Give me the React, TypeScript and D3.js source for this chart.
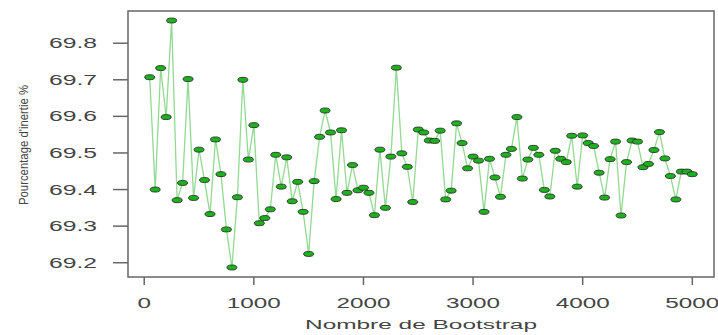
import React, { useRef, useEffect } from "react";
import * as d3 from "d3";

// Nombre de bootstrap (x) et pourcentage d'inertie (y)
const bootstrap: number[] = [
  50, 100, 150, 200, 250, 300, 350, 400, 450, 500,
  550, 600, 650, 700, 750, 800, 850, 900, 950, 1000,
  1050, 1100, 1150, 1200, 1250, 1300, 1350, 1400, 1450, 1500,
  1550, 1600, 1650, 1700, 1750, 1800, 1850, 1900, 1950, 2000,
  2050, 2100, 2150, 2200, 2250, 2300, 2350, 2400, 2450, 2500,
  2550, 2600, 2650, 2700, 2750, 2800, 2850, 2900, 2950, 3000,
  3050, 3100, 3150, 3200, 3250, 3300, 3350, 3400, 3450, 3500,
  3550, 3600, 3650, 3700, 3750, 3800, 3850, 3900, 3950, 4000,
  4050, 4100, 4150, 4200, 4250, 4300, 4350, 4400, 4450, 4500,
  4550, 4600, 4650, 4700, 4750, 4800, 4850, 4900, 4950, 5000,
];

const inertie: number[] = [
  69.707, 69.4, 69.732, 69.598, 69.862, 69.371, 69.418, 69.702, 69.377, 69.509,
  69.426, 69.333, 69.537, 69.442, 69.291, 69.187, 69.379, 69.7, 69.482, 69.576,
  69.308, 69.322, 69.346, 69.495, 69.408, 69.488, 69.368, 69.421, 69.339, 69.224,
  69.423, 69.544, 69.616, 69.556, 69.374, 69.562, 69.391, 69.467, 69.398, 69.405,
  69.391, 69.33, 69.509, 69.35, 69.49, 69.733, 69.499, 69.462, 69.366, 69.564,
  69.556, 69.534, 69.533, 69.561, 69.373, 69.397, 69.581, 69.527, 69.458, 69.49,
  69.479, 69.339, 69.484, 69.433, 69.38, 69.495, 69.511, 69.598, 69.43, 69.482,
  69.514, 69.495, 69.399, 69.381, 69.506, 69.484, 69.475, 69.547, 69.408, 69.548,
  69.527, 69.519, 69.446, 69.378, 69.483, 69.531, 69.329, 69.475, 69.534, 69.531,
  69.461, 69.47, 69.508, 69.557, 69.485, 69.437, 69.373, 69.449, 69.449, 69.442,
];

const xTicks: number[] = [0, 1000, 2000, 3000, 4000, 5000];
const yTicks: number[] = [69.2, 69.3, 69.4, 69.5, 69.6, 69.7, 69.8];

function App() {
  const ref = useRef<SVGSVGElement | null>(null);

  useEffect(() => {
    const svg = d3.select(ref.current);
    svg.selectAll("*").remove();

    const left = 128, right = 714, top = 11, bottom = 277;
    const font = "Liberation Sans, Arial, sans-serif";

    // domaines étendus de 4% comme dans R
    const x = d3.scaleLinear().domain([-148, 5198]).range([left, right]);
    const y = d3.scaleLinear().domain([69.161, 69.888]).range([bottom, top]);

    // axe y
    yTicks.forEach((t) => {
      svg.append("line")
        .attr("x1", left - 15).attr("x2", left)
        .attr("y1", y(t)).attr("y2", y(t))
        .attr("stroke", "#666").attr("stroke-width", 1.5);
      svg.append("text")
        .attr("x", 97).attr("y", y(t) + 5)
        .attr("text-anchor", "end")
        .attr("font-family", font).attr("font-size", 14)
        .attr("fill", "#444")
        .attr("textLength", 48).attr("lengthAdjust", "spacingAndGlyphs")
        .text(t.toFixed(1));
    });

    // axe x
    xTicks.forEach((t) => {
      svg.append("line")
        .attr("x1", x(t)).attr("x2", x(t))
        .attr("y1", bottom).attr("y2", bottom + 8)
        .attr("stroke", "#666").attr("stroke-width", 1.5);
      const s = String(t);
      svg.append("text")
        .attr("x", x(t)).attr("y", 308)
        .attr("text-anchor", "middle")
        .attr("font-family", font).attr("font-size", 14)
        .attr("fill", "#444")
        .attr("textLength", s.length * 13.5).attr("lengthAdjust", "spacingAndGlyphs")
        .text(s);
    });

    svg.append("text")
      .attr("x", 421).attr("y", 329)
      .attr("text-anchor", "middle")
      .attr("font-family", font).attr("font-size", 12.5)
      .attr("fill", "#444")
      .attr("textLength", 232).attr("lengthAdjust", "spacingAndGlyphs")
      .text("Nombre de Bootstrap");

    svg.append("text")
      .attr("transform", "translate(28,145) rotate(-90)")
      .attr("text-anchor", "middle")
      .attr("font-family", font).attr("font-size", 12)
      .attr("fill", "#444")
      .attr("textLength", 120).attr("lengthAdjust", "spacingAndGlyphs")
      .text("Pourcentage d'inertie %");

    // la ligne
    const pts = bootstrap.map((b, i) => [b, inertie[i]] as [number, number]);
    svg.append("path")
      .datum(pts)
      .attr("fill", "none")
      .attr("stroke", "#92d992")
      .attr("stroke-width", 1.3)
      .attr("d", d3.line<[number, number]>()
        .x((d) => x(d[0]))
        .y((d) => y(d[1])));

    // les points
    svg.append("g")
      .selectAll("ellipse")
      .data(pts)
      .join("ellipse")
      .attr("cx", (d) => x(d[0]))
      .attr("cy", (d) => y(d[1]))
      .attr("rx", 5)
      .attr("ry", 2.5)
      .attr("fill", "#1fb01f")
      .attr("stroke", "#223322")
      .attr("stroke-width", 0.9);

    // cadre
    svg.append("rect")
      .attr("x", left).attr("y", top)
      .attr("width", right - left).attr("height", bottom - top)
      .attr("fill", "none")
      .attr("stroke", "#666").attr("stroke-width", 1.5);
  }, []);

  return (
    <svg
      ref={ref}
      width={718}
      height={335}
      style={{ position: "absolute", left: 0, top: 0, background: "#fff" }}
    />
  );
}

export default App;
